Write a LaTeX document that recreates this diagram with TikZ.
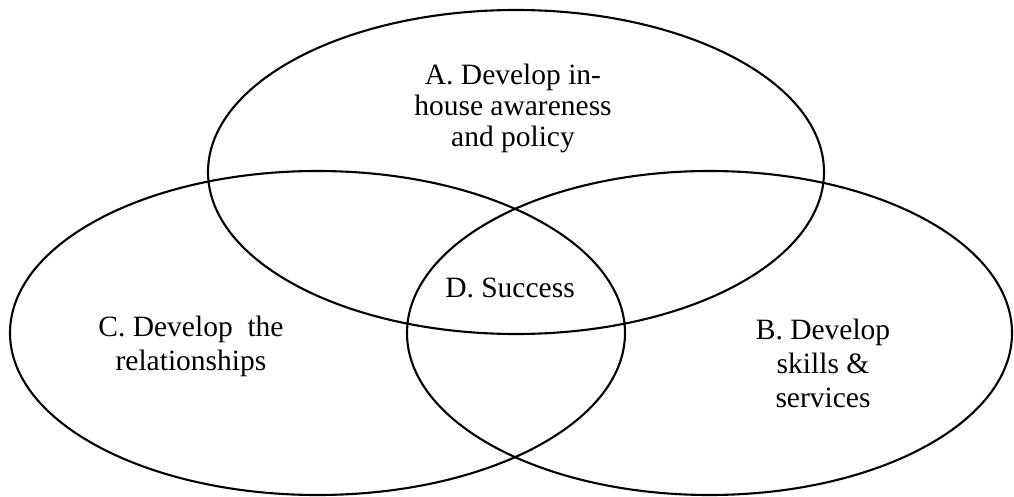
\documentclass[tikz,border=0pt]{standalone}
\usepackage{fontspec}
\setmainfont{Liberation Serif}
\begin{document}
\begin{tikzpicture}[x=1pt,y=-1pt,
  setshape/.style={draw=black,line width=2.1pt},
  setlabel/.style={font=\fontsize{29.5}{34}\selectfont,align=center,inner sep=0pt,anchor=base}]
\useasboundingbox (0,0) rectangle (1014,497);
% the three overlapping sets
\draw[setshape] (516,172) ellipse [x radius=308, y radius=162];
\draw[setshape] (317.5,333) ellipse [x radius=307.5, y radius=162];
\draw[setshape] (709.5,333) ellipse [x radius=302.5, y radius=162];
% set labels (anchored at the baseline of their last line)
\node[setlabel,font=\fontsize{29.5}{31}\selectfont] (a) at (513,147) {A. Develop in-\\house awareness\\and policy};
\node[setlabel] (b) at (823,407) {B. Develop\\skills \&\\services};
\node[setlabel] (c) at (191,370) {C. Develop\ \ the\\relationships};
\node[setlabel] (d) at (510,297) {D. Success};
\end{tikzpicture}
\end{document}
